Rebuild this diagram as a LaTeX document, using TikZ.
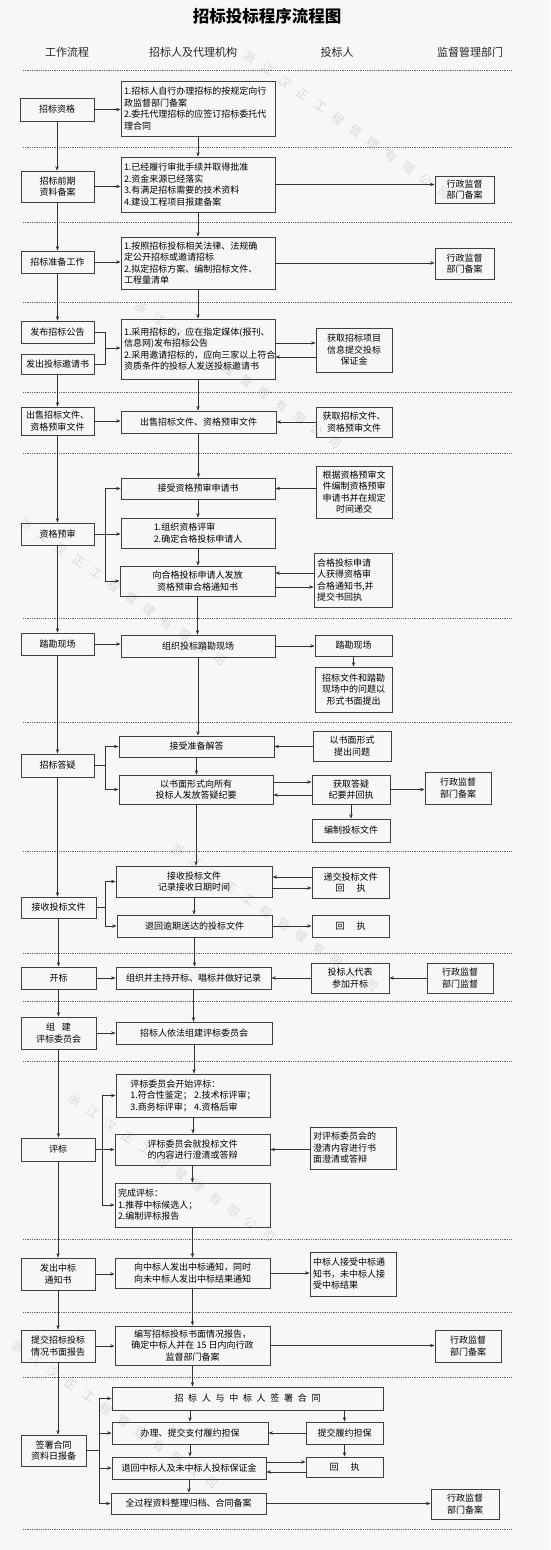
\documentclass[tikz,border=0pt]{standalone}
\usepackage{fontspec}
\setmainfont{Noto Sans CJK SC}
\usetikzlibrary{arrows.meta,calc}
\newcommand\ltrsp{\hspace{4.7pt}}
\newcommand\bx[7][]{%
  \pgfmathsetmacro\bxcx{(#3+#5)/2}%
  \pgfmathsetmacro\bxcy{(#4+#6)/2}%
  \pgfmathsetmacro\bxww{#5-#3}%
  \pgfmathsetmacro\bxhh{#6-#4}%
  \pgfmathsetmacro\bxtw{#5-#3-6}%
  \node[box,minimum width=\bxww pt,minimum height=\bxhh pt,#1] (#2) at (\bxcx,\bxcy) {#7};}
\newcommand\varr[2]{\draw[arr] (#1.south) -- (#1.south |- #2.north);}
\newcommand\harr[3]{\draw[arr] ([yshift=#3]#1.east) -- ([yshift=#3]#1.east -| #2.west);}
\newcommand\harrL[3]{\draw[arr] ([yshift=#3]#1.east -| #2.west) -- ([yshift=#3]#1.east);}
% watermark: one glyph per node along a slanted line, centred at (#2,#3)
\newcommand\wmark[3]{%
  \foreach \wc [count=\wi] in {浙,江,汉,正,工,程,管,理,有,限,公,司}
    \node[wm] (#1-\wi) at ({#2+(\wi-6.5)*17.6},{#3+(\wi-6.5)*12.3}) {\wc};}
\begin{document}
\begin{tikzpicture}[x=1pt,y=-1pt,
  box/.style={draw=black!75,line width=0.8pt,inner sep=2pt,align=center,font=\fontsize{9}{11.5}\selectfont},
  lft/.style={align=left,text width=\bxtw pt},
  arr/.style={draw=black!80,line width=0.7pt,-{Stealth[length=4.5pt,width=3.4pt]}},
  ln/.style={draw=black!80,line width=0.7pt},
  sep/.style={draw=black!60,line width=0.6pt,dash pattern=on 0.7pt off 1.1pt},
  hd/.style={font=\fontsize{11}{13}\selectfont,text=black!85},
  wm/.style={text=black!15,font=\fontsize{12}{12}\selectfont,rotate=-35,inner sep=0pt}]
\useasboundingbox (0,0) rectangle (550,1550);
\fill[black!3] (0,0) rectangle (550,1550);

% watermark
\wmark{wa}{347}{125}
\wmark{wb}{238}{375}
\wmark{wc}{123}{592}
\wmark{wd}{275}{918}
\wmark{we}{172}{1168}
\wmark{wf}{115}{1415}

% title and headers
\node[font=\fontsize{16.5}{18}\selectfont\bfseries] (title) at (267,16) {招标投标程序流程图};
\node[hd] (h1) at (67,52) {工作流程};
\node[hd] (h2) at (193,52) {招标人及代理机构};
\node[hd] (h3) at (337,52) {投标人};
\node[hd] (h4) at (470,52) {监督管理部门};

% separators
\foreach \yy in {70,147,222,302,392,453,618,722,851,953,1001,1061,1239,1312,1377,1529}
  \draw[sep] (23,\yy) -- (512,\yy);

% left column
\bx{L1}{20}{98}{94}{121}{招标资格}
\bx{L2}{21}{171}{94}{202}{招标前期\\资料备案}
\bx{L3}{21}{251}{94}{273}{招标准备工作}
\bx{L4a}{21}{321}{94}{343}{发布招标公告}
\bx{L4b}{21}{354}{94}{374}{发出投标邀请书}
\bx{L5}{21}{407}{94}{435}{出售招标文件、\\资格预审文件}
\bx{L6}{21}{523}{94}{545}{资格预审}
\bx{L7}{21}{633}{94}{655}{踏勘现场}
\bx{L8}{21}{754}{94}{777}{招标答疑}
\bx{L9}{21}{897}{96}{918}{接收投标文件}
\bx{L10}{21}{967}{96}{989}{开标}
\bx{L11}{21}{1017}{96}{1049}{组\hspace{7pt}建\\评标委员会}
\bx{L12}{21}{1138}{95}{1161}{评标}
\bx{L13}{21}{1258}{95}{1290}{发出中标\\通知书}
\bx{L14}{21}{1330}{95}{1362}{提交招标投标\\情况书面报告}
\bx{L15}{21}{1435}{86}{1466}{签署合同\\资料日报备}

% middle column
\bx[lft]{M1}{121}{81}{275}{136}{1.招标人自行办理招标的按规定向行\\政监督部门备案\\2.委托代理招标的应签订招标委托代\\理合同}
\bx[lft]{M2}{121}{157}{275}{212}{1.已经履行审批手续并取得批准\\2.资金来源已经落实\\3.有满足招标需要的技术资料\\4.建设工程项目报建备案}
\bx[lft]{M3}{121}{237}{275}{289}{1.按照招标投标相关法律、法规确\\定公开招标或邀请招标\\2.拟定招标方案、编制招标文件、\\工程量清单}
\bx[lft]{M4}{121}{319}{275}{379}{1.采用招标的，应在指定媒体(报刊、\\信息网)发布招标公告\\2.采用邀请招标的，应向三家以上符合\\资质条件的投标人发送投标邀请书}
\bx{M5}{121}{411}{276}{433}{出售招标文件、资格预审文件}
\bx{M6}{121}{478}{275}{499}{接受资格预审申请书}
\bx[align=left]{M7}{121}{518}{275}{548}{1.组织资格评审\\2.确定合格投标申请人}
\bx{M8}{120}{566}{275}{596}{向合格投标申请人发放\\资格预审合格通知书}
\bx{M9}{121}{635}{275}{657}{组织投标踏勘现场}
\bx{M10}{119}{736}{274}{757}{接受准备解答}
\bx{M11}{119}{775}{273}{804}{以书面形式向所有\\投标人发放答疑纪要}
\bx{M12}{116}{866}{272}{897}{接收投标文件\\记录接收日期时间}
\bx{M13}{117}{915}{272}{937}{退回逾期送达的投标文件}
\bx{M14}{116}{967}{271}{989}{组织并主持开标、唱标并做好记录}
\bx{M15}{116}{1022}{272}{1044}{招标人依法组建评标委员会}
\bx[align=left]{M16}{116}{1074}{270}{1117}{评标委员会开始评标：\\1.符合性鉴定；\ 2.技术标评审；\\3.商务标评审；\ 4.资格后审}
\bx{M17}{115}{1134}{270}{1165}{评标委员会就投标文件\\的内容进行澄清或答辩}
\bx[lft]{M18}{115}{1183}{270}{1227}{完成评标：\\1.推荐中标候选人；\\2.编制评标报告}
\bx{M19}{115}{1258}{270}{1288}{向中标人发出中标通知，同时\\向未中标人发出中标结果通知}
\bx{M20}{115}{1326}{270}{1365}{编写招标投标书面情况报告，\\确定中标人并在 15 日内向行政\\监督部门备案}
\bx{M21}{112}{1387}{383}{1410}{招\ltrsp 标\ltrsp 人\ltrsp 与\ltrsp 中\ltrsp 标\ltrsp 人\ltrsp 签\ltrsp 署\ltrsp 合\ltrsp 同}
\bx{M22}{112}{1422}{268}{1444}{办理、提交支付履约担保}
\bx{M23}{112}{1457}{266}{1479}{退回中标人及未中标人投标保证金}
\bx{M24}{111}{1493}{266}{1514}{全过程资料整理归档、合同备案}

% right columns
\bx{R2}{435}{176}{494}{203}{行政监督\\部门备案}
\bx{R3}{435}{248}{494}{279}{行政监督\\部门备案}
\bx{R4}{316}{328}{392}{372}{获取招标项目\\信息提交投标\\保证金}
\bx{R5}{316}{407}{392}{437}{获取招标文件、\\资格预审文件}
\bx{R6}{316}{466}{392}{518}{根据资格预审文\\件编制资格预审\\申请书并在规定\\时间递交}
\bx[lft]{R8}{314}{553}{392}{607}{合格投标申请\\人获得资格审\\合格通知书,并\\提交书回执}
\bx{R9a}{315}{635}{392}{656}{踏勘现场}
\bx{R9b}{315}{667}{392}{712}{招标文件和踏勘\\现场中的问题以\\形式书面提出}
\bx{R10}{313}{731}{391}{761}{以书面形式\\提出问题}
\bx{R11}{312}{775}{390}{804}{获取答疑\\纪要并回执}
\bx{R11b}{425}{772}{491}{804}{行政监督\\部门备案}
\bx{R11c}{312}{819}{390}{842}{编制投标文件}
\bx{R12}{312}{867}{389}{898}{递交投标文件\\回\hspace{12pt}执}
\bx{R13}{312}{915}{389}{937}{回\hspace{12pt}执}
\bx{R14}{311}{963}{389}{993}{投标人代表\\参加开标}
\bx{R14b}{427}{963}{493}{993}{行政监督\\部门监督}
\bx[lft]{R17}{310}{1127}{396}{1169}{对评标委员会的\\澄清内容进行书\\面澄清或答辩}
\bx[lft]{R19}{310}{1252}{396}{1296}{中标人接受中标通\\知书，未中标人接\\受中标结果}
\bx{R20}{435}{1330}{501}{1362}{行政监督\\部门备案}
\bx{R22}{306}{1422}{383}{1444}{提交履约担保}
\bx{R23}{306}{1457}{383}{1477}{回\hspace{12pt}执}
\bx{R24}{431}{1489}{499}{1519}{行政监督\\部门备案}

% left column flow
\varr{L1}{L2}\varr{L2}{L3}\varr{L3}{L4a}\varr{L4b}{L5}\varr{L5}{L6}
\varr{L6}{L7}\varr{L7}{L8}\varr{L8}{L9}\varr{L9}{L10}\varr{L10}{L11}
\varr{L11}{L12}\varr{L12}{L13}\varr{L13}{L14}\varr{L14}{L15}

% middle column flow
\varr{M1}{M2}\varr{M2}{M3}\varr{M3}{M4}\varr{M4}{M5}\varr{M5}{M6}
\varr{M6}{M7}\varr{M7}{M8}\varr{M8}{M9}\varr{M9}{M10}\varr{M10}{M11}
\varr{M11}{M12}\varr{M12}{M13}\varr{M13}{M14}\varr{M14}{M15}\varr{M15}{M16}
\varr{M16}{M17}\varr{M17}{M18}\varr{M18}{M19}\varr{M19}{M20}\varr{M20}{M21}
\draw[arr] (M22.north |- M21.south) -- (M22.north);
\varr{M22}{M23}\varr{M23}{M24}

% right verticals
\varr{R9a}{R9b}
\varr{R11}{R11c}
\draw[arr] (R22.north |- M21.south) -- (R22.north);
\varr{R22}{R23}

% horizontal connectors
\harr{L1}{M1}{0pt}
\harr{L2}{M2}{0pt}\harr{M2}{R2}{0pt}
\harr{L3}{M3}{0pt}\harr{M3}{R3}{0pt}
\coordinate (j4) at (105,348);
\draw[ln] (L4a.east) -| (j4);
\draw[ln] (L4b.east) -| (j4);
\draw[arr] (j4) -- (j4 -| M4.west);
\harr{M4}{R4}{6pt}\harrL{M4}{R4}{-8pt}
\harr{L5}{M5}{0pt}\harrL{M5}{R5}{0pt}
\harrL{M6}{R6}{0pt}
\harr{L6}{M7}{0pt}
\coordinate (j6) at (L6.east -| 105,0);
\draw[arr] (j6) |- (M6.west);
\draw[arr] (j6) |- (M8.west);
\harrL{M8}{R8}{8pt}\harr{M8}{R8}{-6pt}
\harr{L7}{M9}{0pt}\harr{M9}{R9a}{0pt}
\coordinate (j8) at (L8.east -| 105,0);
\draw[ln] (L8.east) -- (j8);
\draw[arr] (j8) |- (M10.west);
\draw[arr] (j8) |- (M11.west);
\harrL{M10}{R10}{0pt}
\harr{M11}{R11}{7.5pt}\harrL{M11}{R11}{-5.5pt}\harr{R11}{R11b}{0pt}
\coordinate (j9) at (L9.east -| 105,0);
\draw[ln] (L9.east) -- (j9);
\draw[arr] (j9) |- (M12.west);
\draw[arr] (j9) |- (M13.west);
\harrL{M12}{R12}{4.5pt}\harr{M12}{R12}{-6.5pt}
\harr{M13}{R13}{0pt}
\harr{L10}{M14}{0pt}\harrL{M14}{R14}{0pt}\harrL{R14}{R14b}{0pt}
\harr{L11}{M15}{0pt}
\harr{L12}{M17}{0pt}
\coordinate (j12) at (L12.east -| 102,0);
\draw[arr] (j12) |- (M16.west);
\draw[arr] (j12) |- (M18.west);
\harrL{M17}{R17}{0pt}
\harr{L13}{M19}{0pt}\harr{M19}{R19}{0pt}
\harr{L14}{M20}{0pt}\harr{M20}{R20}{0pt}
\coordinate (j15) at (L15.east -| 99,0);
\draw[ln] (L15.east) -- (j15);
\draw[arr] (j15) |- (M21.west);
\draw[arr] (j15) |- (M22.west);
\draw[arr] (j15) |- (M23.west);
\draw[arr] (j15) |- (M24.west);
\harrL{M22}{R22}{0pt}
\harr{M23}{R23}{6pt}\harrL{M23}{R23}{-4pt}
\harr{M24}{R24}{0pt}
\end{tikzpicture}
\end{document}
